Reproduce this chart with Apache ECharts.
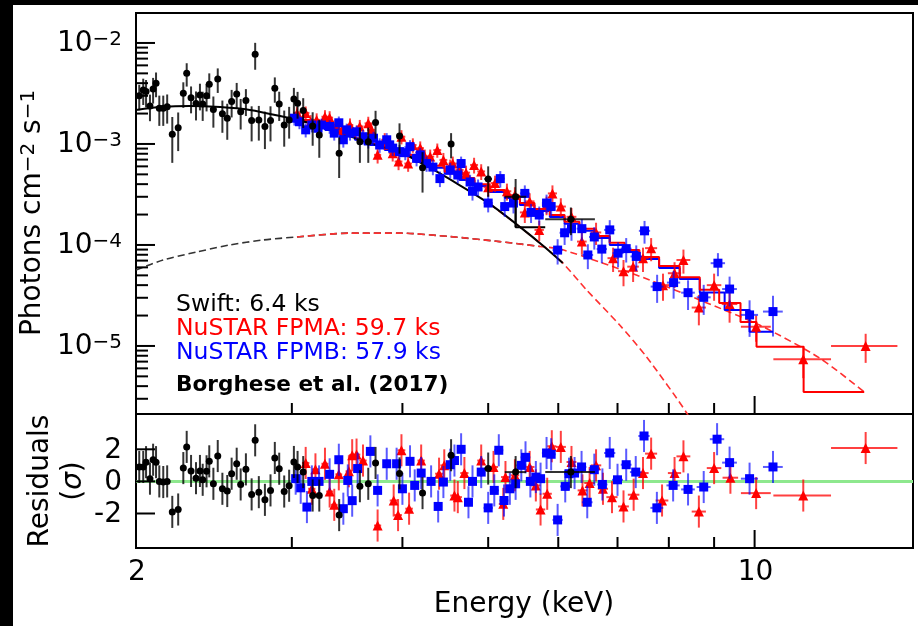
<!DOCTYPE html>
<html><head><meta charset="utf-8">
<script src="https://cdn.jsdelivr.net/npm/echarts@6/dist/echarts.min.js"></script>
<style>html,body{margin:0;padding:0;background:#fff;}#c{width:918px;height:626px;}</style>
</head><body><div id="c"></div>
<script>
// ---------------- DATA ----------------
const X_MIN = 2, X_MAX = 15.1;
const Y_MIN = 2.12e-6, Y_MAX = 1.98e-2;
const R_MIN = -4.15, R_MAX = 4.2;
const RES_SIGMA = 1;

const X_TICKS_MAJOR = [10];
const X_TICKS_MINOR = [2, 3, 4, 5, 6, 7, 8, 9];
const X_TICK_LABELS = [[2, '2'], [10, '10']];
const Y_TICKS_MAJOR = [1e-5, 1e-4, 1e-3, 1e-2];
const Y_TICKS_MINOR = [3e-6,4e-6,5e-6,6e-6,7e-6,8e-6,9e-6,
  2e-5,3e-5,4e-5,5e-5,6e-5,7e-5,8e-5,9e-5,
  2e-4,3e-4,4e-4,5e-4,6e-4,7e-4,8e-4,9e-4,
  2e-3,3e-3,4e-3,5e-3,6e-3,7e-3,8e-3,9e-3];
const Y_TICK_LABELS = [[1e-5, '−5'], [1e-4, '−4'], [1e-3, '−3'], [1e-2, '−2']];
const R_TICKS = [-2, 0, 2];
const R_TICK_LABELS = [[-2, '-2'], [0, '0'], [2, '2']];

// Swift: [E, dE, flux, dFlux]
const swiftFlux = [
 [2.017,0.008,3.0e-3,0.85e-3],[2.038,0.008,3.43e-3,1.0e-3],[2.053,0.008,3.30e-3,1.0e-3],[2.074,0.008,2.38e-3,0.7e-3],
 [2.091,0.008,3.51e-3,1.0e-3],[2.107,0.008,4.0e-3,1.1e-3],[2.125,0.008,2.26e-3,0.75e-3],[2.147,0.008,2.26e-3,0.75e-3],
 [2.169,0.008,2.34e-3,0.75e-3],[2.198,0.008,1.25e-3,0.6e-3],[2.232,0.008,1.45e-3,0.6e-3],[2.262,0.008,3.18e-3,0.9e-3],
 [2.282,0.008,5.0e-3,1.3e-3],[2.308,0.008,2.86e-3,0.85e-3],[2.338,0.008,2.51e-3,0.8e-3],[2.362,0.008,3.05e-3,0.9e-3],
 [2.379,0.008,2.49e-3,0.8e-3],[2.403,0.008,3.0e-3,0.9e-3],[2.420,0.008,3.9e-3,1.1e-3],[2.446,0.009,2.2e-3,0.75e-3],
 [2.474,0.009,4.4e-3,1.2e-3],[2.504,0.009,1.99e-3,0.7e-3],[2.536,0.009,1.80e-3,0.7e-3],[2.565,0.009,2.63e-3,0.8e-3],
 [2.599,0.009,3.12e-3,0.9e-3],[2.626,0.009,2.09e-3,0.7e-3],[2.662,0.009,2.69e-3,0.8e-3],[2.702,0.01,1.71e-3,0.65e-3],
 [2.727,0.01,7.73e-3,2.3e-3],[2.753,0.01,1.73e-3,0.65e-3],[2.797,0.01,1.49e-3,0.6e-3],[2.838,0.01,1.71e-3,0.65e-3],
 [2.870,0.01,3.56e-3,1.0e-3],[2.903,0.01,2.49e-3,0.8e-3],[2.941,0.01,1.54e-3,0.6e-3],[2.979,0.01,1.73e-3,0.6e-3],
 [3.016,0.01,2.79e-3,0.8e-3],[3.045,0.01,2.53e-3,0.75e-3],[3.09,0.01,2.14e-3,0.7e-3],[3.167,0.012,1.51e-3,0.55e-3],
 [3.222,0.012,1.23e-3,0.5e-3],[3.393,0.012,0.81e-3,0.35e-3],[3.581,0.015,1.05e-3,0.4e-3],[3.66,0.015,1.05e-3,0.4e-3],
 [3.73,0.015,1.63e-3,0.5e-3],[3.97,0.02,1.20e-3,0.4e-3],[4.215,0.02,0.58e-3,0.25e-3],[4.54,0.03,1.0e-3,0.28e-3],
 [5.0,0.05,0.45e-3,0.15e-3],[5.37,0.15,0.30e-3,0.15e-3],[6.2,0.4,0.18e-3,0.055e-3]
];
// Swift residuals: [E, dE, sigma]
const swiftRes = [
 [2.017,0.008,0.9],[2.038,0.008,0.9],[2.053,0.008,1.2],[2.074,0.008,0.17],[2.091,0.008,1.35],[2.107,0.008,1.2],
 [2.125,0.008,0],[2.147,0.008,-0.04],[2.169,0.008,0],[2.198,0.008,-1.9],[2.232,0.008,-1.75],[2.262,0.008,0.83],
 [2.282,0.008,2.15],[2.308,0.008,0.65],[2.338,0.008,0.2],[2.362,0.008,0.65],[2.379,0.008,0.1],[2.403,0.008,0.63],
 [2.420,0.008,1.25],[2.446,0.009,-0.15],[2.474,0.009,1.58],[2.504,0.009,-0.46],[2.536,0.009,-0.6],[2.565,0.009,0.48],
 [2.599,0.009,1.1],[2.626,0.009,-0.19],[2.662,0.009,0.75],[2.702,0.01,-0.81],[2.727,0.01,2.56],[2.753,0.01,-0.67],
 [2.797,0.01,-1.15],[2.838,0.01,-0.56],[2.870,0.01,1.46],[2.903,0.01,0.79],[2.941,0.01,-0.63],[2.979,0.01,-0.27],
 [3.016,0.01,1.21],[3.045,0.01,0.9],[3.09,0.01,0.58],[3.167,0.012,-0.88],[3.222,0.012,-0.88],[3.393,0.012,-2.1],
 [3.581,0.015,-0.3],[3.66,0.015,-0.15],[3.73,0.015,1.15],[3.97,0.02,0.5],[4.215,0.02,-0.73],[4.54,0.03,1.63],
 [5.0,0.05,0.8],[5.37,0.15,0.58],[6.2,0.4,0.58]
];
// NuSTAR FPMA: [E, dE, flux, dFlux]
const fpmaFlux = [
 [3.04,0.03,2.0e-3,0.32e-3],[3.06,0.03,1.82e-3,0.29e-3],[3.11,0.03,2.03e-3,0.32e-3],[3.15,0.03,1.66e-3,0.27e-3],
 [3.20,0.03,1.73e-3,0.28e-3],[3.27,0.03,1.86e-3,0.3e-3],[3.31,0.03,1.82e-3,0.29e-3],[3.36,0.03,1.49e-3,0.24e-3],
 [3.42,0.03,1.38e-3,0.22e-3],[3.49,0.03,1.54e-3,0.25e-3],[3.58,0.035,1.49e-3,0.24e-3],[3.66,0.035,1.6e-3,0.26e-3],
 [3.69,0.035,1.38e-3,0.22e-3],[3.75,0.035,0.78e-3,0.14e-3],[3.82,0.035,1.10e-3,0.18e-3],[3.90,0.04,0.81e-3,0.14e-3],
 [3.96,0.04,0.67e-3,0.12e-3],[3.99,0.04,1.18e-3,0.19e-3],[4.06,0.04,0.64e-3,0.11e-3],[4.11,0.04,0.977e-3,0.16e-3],
 [4.19,0.04,0.91e-3,0.15e-3],[4.24,0.04,0.75e-3,0.13e-3],[4.30,0.045,0.75e-3,0.13e-3],[4.38,0.045,0.87e-3,0.14e-3],
 [4.45,0.045,0.695e-3,0.12e-3],[4.53,0.045,0.60e-3,0.1e-3],[4.56,0.05,0.64e-3,0.11e-3],[4.64,0.05,0.553e-3,0.095e-3],
 [4.72,0.05,0.52e-3,0.09e-3],[4.82,0.05,0.62e-3,0.11e-3],[4.91,0.05,0.535e-3,0.095e-3],[5.00,0.06,0.372e-3,0.07e-3],
 [5.09,0.06,0.41e-3,0.075e-3],[5.25,0.06,0.34e-3,0.065e-3],[5.36,0.06,0.313e-3,0.06e-3],[5.50,0.07,0.21e-3,0.045e-3],
 [5.57,0.07,0.27e-3,0.055e-3],[5.71,0.07,0.141e-3,0.032e-3],[5.82,0.07,0.249e-3,0.052e-3],[5.91,0.07,0.324e-3,0.065e-3],
 [6.04,0.08,0.24e-3,0.05e-3],[6.21,0.08,0.19e-3,0.042e-3],[6.38,0.08,0.108e-3,0.028e-3],[6.62,0.09,0.133e-3,0.033e-3],
 [6.92,0.1,0.074e-3,0.02e-3],[7.11,0.1,0.055e-3,0.016e-3],[7.29,0.11,0.061e-3,0.018e-3],[7.48,0.11,0.074e-3,0.02e-3],
 [7.64,0.12,0.093e-3,0.024e-3],[7.88,0.13,0.040e-3,0.012e-3],[8.12,0.14,0.0525e-3,0.015e-3],[8.31,0.15,0.071e-3,0.019e-3],
 [8.65,0.16,0.024e-3,0.008e-3],[9.00,0.17,0.040e-3,0.012e-3],[9.37,0.19,0.026e-3,0.009e-3],[10.04,0.39,0.0155e-3,0.0045e-3],
 [11.35,0.85,7.4e-6,2.6e-6],[13.35,1.15,1.0e-5,0.32e-5]
];
const fpmaRes = [
 [3.11,0.03,1.15],[3.16,0.03,-0.46],[3.19,0.03,0.75],[3.27,0.03,1.1],[3.31,0.03,-0.63],[3.35,0.03,-1.46],
 [3.39,0.03,0.44],[3.48,0.03,0.63],[3.51,0.03,1.63],[3.55,0.035,1.67],[3.61,0.035,1.3],[3.75,0.035,-2.75],
 [3.91,0.04,-1.19],[3.955,0.04,-2.1],[3.99,0.04,1.94],[4.07,0.04,-1.7],[4.20,0.04,1.3],[4.40,0.045,0.48],
 [4.46,0.045,1.0],[4.58,0.05,-0.88],[4.62,0.05,-0.98],[4.70,0.05,0.52],[4.91,0.05,1.3],[5.07,0.06,0.9],
 [5.20,0.06,-1.4],[5.23,0.06,0.27],[5.36,0.06,0.38],[5.57,0.07,0.9],[5.66,0.07,-0.25],[5.73,0.07,-1.75],
 [5.83,0.07,-0.77],[5.90,0.07,2.19],[6.04,0.08,2.15],[6.21,0.08,1.21],[6.39,0.08,-0.56],[6.51,0.09,-0.1],
 [6.62,0.09,1.0],[6.74,0.09,-0.46],[6.90,0.1,-0.98],[7.11,0.1,-1.56],[7.30,0.11,-0.83],[7.48,0.11,0.52],
 [7.64,0.12,1.73],[7.86,0.13,-1.19],[8.12,0.14,0.52],[8.31,0.15,1.56],[8.65,0.16,-1.88],[9.0,0.17,0.83],
 [9.39,0.19,0.23],[10.04,0.39,-0.73],[11.35,0.85,-0.88],[13.35,1.15,2.08]
];
// NuSTAR FPMB: [E, dE, flux, dFlux]
const fpmbFlux = [
 [3.02,0.03,1.80e-3,0.28e-3],[3.06,0.03,1.66e-3,0.26e-3],[3.11,0.03,1.38e-3,0.22e-3],[3.16,0.03,1.54e-3,0.24e-3],
 [3.21,0.03,1.43e-3,0.22e-3],[3.24,0.03,1.54e-3,0.24e-3],[3.31,0.03,1.49e-3,0.23e-3],[3.35,0.03,1.28e-3,0.2e-3],
 [3.39,0.03,1.62e-3,0.25e-3],[3.43,0.03,1.10e-3,0.18e-3],[3.46,0.03,1.38e-3,0.21e-3],[3.49,0.03,1.28e-3,0.2e-3],
 [3.55,0.035,1.32e-3,0.2e-3],[3.61,0.035,1.18e-3,0.19e-3],[3.66,0.035,1.07e-3,0.17e-3],[3.71,0.035,1.14e-3,0.18e-3],
 [3.77,0.035,0.977e-3,0.16e-3],[3.84,0.035,1.10e-3,0.18e-3],[3.87,0.035,0.98e-3,0.16e-3],[3.90,0.04,0.91e-3,0.15e-3],
 [3.97,0.04,0.84e-3,0.14e-3],[4.03,0.04,0.82e-3,0.13e-3],[4.08,0.04,0.94e-3,0.15e-3],[4.15,0.04,0.72e-3,0.12e-3],
 [4.19,0.04,0.78e-3,0.13e-3],[4.26,0.04,0.64e-3,0.11e-3],[4.33,0.045,0.59e-3,0.10e-3],[4.41,0.045,0.454e-3,0.08e-3],
 [4.53,0.045,0.553e-3,0.095e-3],[4.62,0.05,0.493e-3,0.085e-3],[4.66,0.05,0.64e-3,0.11e-3],[4.77,0.05,0.42e-3,0.075e-3],
 [4.80,0.05,0.34e-3,0.065e-3],[4.87,0.05,0.375e-3,0.07e-3],[5.00,0.06,0.26e-3,0.05e-3],[5.16,0.06,0.454e-3,0.085e-3],
 [5.22,0.06,0.24e-3,0.05e-3],[5.34,0.06,0.26e-3,0.055e-3],[5.50,0.07,0.324e-3,0.065e-3],[5.59,0.07,0.21e-3,0.045e-3],
 [5.71,0.07,0.198e-3,0.042e-3],[5.82,0.07,0.26e-3,0.055e-3],[5.89,0.07,0.24e-3,0.05e-3],[5.99,0.08,0.089e-3,0.025e-3],
 [6.10,0.08,0.132e-3,0.032e-3],[6.21,0.08,0.145e-3,0.035e-3],[6.38,0.08,0.145e-3,0.035e-3],[6.48,0.09,0.0796e-3,0.022e-3],
 [6.59,0.09,0.12e-3,0.03e-3],[6.72,0.09,0.091e-3,0.025e-3],[6.86,0.1,0.141e-3,0.035e-3],[7.01,0.1,0.083e-3,0.023e-3],
 [7.16,0.1,0.092e-3,0.025e-3],[7.35,0.11,0.077e-3,0.022e-3],[7.51,0.11,0.138e-3,0.035e-3],[7.76,0.13,0.0387e-3,0.012e-3],
 [8.10,0.14,0.0424e-3,0.013e-3],[8.41,0.15,0.0337e-3,0.011e-3],[8.76,0.16,0.0303e-3,0.01e-3],[9.09,0.17,0.066e-3,0.017e-3],
 [9.37,0.18,0.0366e-3,0.012e-3],[9.87,0.22,0.0203e-3,0.008e-3],[10.49,0.27,0.0219e-3,0.0095e-3]
];
const fpmbRes = [
 [3.03,0.03,0.17],[3.07,0.03,-0.4],[3.12,0.03,-1.6],[3.16,0.03,0],[3.22,0.03,0],[3.31,0.03,0.44],[3.39,0.03,1.35],
 [3.43,0.03,-1.7],[3.47,0.03,0.06],[3.51,0.03,-1.2],[3.56,0.035,0.8],[3.68,0.035,1.87],[3.75,0.035,-0.56],
 [3.84,0.035,1.1],[3.94,0.04,1.1],[4.0,0.04,-0.46],[4.08,0.04,1.25],[4.13,0.04,-0.25],[4.20,0.04,0.52],
 [4.31,0.045,0],[4.39,0.045,-1.56],[4.45,0.045,-0.04],[4.53,0.045,1.04],[4.58,0.05,1.3],[4.66,0.05,2.0],
 [4.75,0.05,-1.3],[4.80,0.05,0],[4.91,0.05,0.58],[5.0,0.06,-1.65],[5.08,0.06,-0.56],[5.14,0.06,1.94],
 [5.21,0.06,-1.19],[5.29,0.06,-0.46],[5.37,0.06,-0.15],[5.45,0.07,1.0],[5.51,0.07,1.5],[5.58,0.07,0],
 [5.66,0.07,0.27],[5.73,0.07,0.17],[5.82,0.07,1.77],[5.89,0.07,1.69],[5.99,0.08,-2.4],[6.11,0.08,-0.31],
 [6.17,0.08,0.48],[6.26,0.08,0.52],[6.375,0.08,0.9],[6.47,0.09,-1.3],[6.59,0.09,0.73],[6.73,0.09,-0.19],
 [6.86,0.1,1.77],[7.0,0.1,0.1],[7.16,0.1,1.04],[7.34,0.11,0.58],[7.5,0.11,2.83],[7.755,0.13,-1.65],
 [8.09,0.14,-0.25],[8.41,0.15,-0.5],[8.76,0.16,-0.35],[9.07,0.17,2.63],[9.37,0.18,1.17],[9.87,0.22,0.17],
 [10.49,0.27,0.9]
];
// Model curves [E, flux]
const swiftModel = [[2.0,2.17e-3],[2.13,2.32e-3],[2.30,2.38e-3],[2.49,2.32e-3],[2.69,2.17e-3],[2.91,1.89e-3],
 [3.14,1.61e-3],[3.40,1.29e-3],[3.67,1.02e-3],[3.97,8.33e-4],[4.30,5.79e-4],[4.64,3.92e-4],[5.02,2.55e-4],
 [5.43,1.51e-4],[5.79,9.55e-5],[6.07,6.64e-5]];
const swiftStep = [[5.37,2.9e-4],[5.37,1.5e-4],[5.8,1.5e-4]];
const hardSwift = [[2.0,5.65e-5],[2.146,7.10e-5],[2.343,8.53e-5],[2.553,1.0e-4],[2.782,1.12e-4],[3.04,1.20e-4],
 [3.49,1.31e-4],[3.97,1.31e-4],[4.53,1.21e-4],[5.15,1.08e-4],[5.72,9.67e-5]];
const hardFpma = [[3.04,1.20e-4],[3.49,1.31e-4],[3.97,1.31e-4],[4.53,1.21e-4],[5.15,1.08e-4],[5.72,9.67e-5],
 [6.02,9.13e-5],[6.68,6.79e-5],[7.61,4.50e-5],[8.67,2.85e-5],[10.13,1.61e-5],[11.84,7.6e-6],[13.3,3.51e-6]];
const softFpma = [[5.02,2.55e-4],[5.43,1.51e-4],[5.79,9.55e-5],[6.07,6.64e-5],[6.46,3.58e-5],[7.04,1.61e-5],
 [7.55,7.78e-6],[8.38,2.17e-6],[8.67,1.2e-6]];
// Binned models (bin lower edge, flux), last point = upper edge of final bin
const fpmaStep = [[3.024,1.73e-3],[3.145,1.58e-3],[3.27,1.44e-3],[3.40,1.28e-3],[3.535,1.14e-3],[3.675,1.0e-3],
 [3.82,8.9e-4],[3.97,7.8e-4],[4.13,6.95e-4],[4.295,6.1e-4],[4.465,5.3e-4],[4.64,4.6e-4],[4.825,4.0e-4],
 [5.02,3.51e-4],[5.22,3.06e-4],[5.43,2.6e-4],[5.64,2.27e-4],[5.87,1.98e-4],[6.10,1.7e-4],[6.34,1.45e-4],
 [6.59,1.23e-4],[6.86,1.05e-4],[7.13,8.9e-5],[7.41,7.6e-5],[7.80,6.2e-5],[8.23,4.8e-5],[8.67,3.6e-5],
 [9.12,2.67e-5],[9.64,1.73e-5],[10.05,9.8e-6],[11.36,3.5e-6],[13.3,3.5e-6]];
const fpmbStep = [[3.024,1.65e-3],[3.145,1.51e-3],[3.27,1.38e-3],[3.40,1.23e-3],[3.535,1.10e-3],[3.675,9.77e-4],
 [3.82,8.73e-4],[3.97,7.6e-4],[4.13,6.65e-4],[4.295,5.8e-4],[4.465,5.06e-4],[4.64,4.40e-4],[4.825,3.84e-4],
 [5.02,3.35e-4],[5.22,2.92e-4],[5.43,2.49e-4],[5.64,2.17e-4],[5.87,1.89e-4],[6.10,1.62e-4],[6.34,1.38e-4],
 [6.59,1.17e-4],[6.86,1.0e-4],[7.13,8.5e-5],[7.41,7.26e-5],[7.80,5.9e-5],[8.23,4.6e-5],[8.67,3.38e-5],
 [9.25,2.27e-5],[9.87,1.38e-5],[10.49,1.38e-5]];

const LEGEND_TEXT = [['Swift: 6.4 ks','#000'],['NuSTAR FPMA: 59.7 ks','#ff0000'],['NuSTAR FPMB: 57.9 ks','#0000ff']];
const CREDIT = 'Borghese et al. (2017)';

// ---------------- CHART ----------------
const FONT = 'DejaVu Sans';
const chart = echarts.init(document.getElementById('c'), null, {renderer:'canvas', width:918, height:626});
const hidden = {axisLine:{show:false}, axisTick:{show:false}, axisLabel:{show:false}, splitLine:{show:false}};

function errSeries(data, gi, color, z, fixedSigma) {
  return {type:'custom', xAxisIndex:gi, yAxisIndex:gi, z, silent:true, encode:{x:0, y:2},
    data,
    renderItem:(p, api) => {
      const E = api.value(0), dE = api.value(1), V = api.value(2);
      const dV = fixedSigma ? RES_SIGMA : api.value(3);
      const a = api.coord([E - dE, V]), b = api.coord([E + dE, V]);
      const c = api.coord([E, V - dV]), d = api.coord([E, V + dV]);
      return {type:'group', children:[
        {type:'line', shape:{x1:a[0], y1:a[1], x2:b[0], y2:b[1]}, style:{stroke:color, lineWidth:2}},
        {type:'line', shape:{x1:c[0], y1:c[1], x2:d[0], y2:d[1]}, style:{stroke:color, lineWidth:2}}
      ]};
    }};
}
function markerSeries(data, gi, symbol, size, color, z) {
  return {type:'scatter', xAxisIndex:gi, yAxisIndex:gi, z, silent:true, symbol, symbolSize:size,
    itemStyle:{color, opacity:1}, data: data.map(t => [t[0], t[2]])};
}
function lineSeries(data, color, width, dashed, z, step) {
  return {type:'line', xAxisIndex:0, yAxisIndex:0, z, silent:true, showSymbol:false, symbol:'none',
    step: step || false, smooth: step ? false : 0.25, data,
    lineStyle:{color, width, type: dashed ? [7, 4] : 'solid'}};
}
function xTicks(gi, yref) {
  const data = X_TICKS_MAJOR.map(v => [v, yref, 1]).concat(X_TICKS_MINOR.map(v => [v, yref, 0]));
  return {type:'custom', xAxisIndex:gi, yAxisIndex:gi, z:20, silent:true, data,
    renderItem:(p, api) => {
      const cs = p.coordSys; const x = api.coord([api.value(0), api.value(1)])[0];
      const L = api.value(2) ? 18 : 11; const yb = cs.y + cs.height;
      return {type:'line', shape:{x1:x, y1:yb, x2:x, y2:yb - L}, style:{stroke:'#000', lineWidth:2}};
    }};
}
function yTicks(gi, major, minor) {
  const data = major.map(v => [X_MIN, v, 1]).concat(minor.map(v => [X_MIN, v, 0]));
  return {type:'custom', xAxisIndex:gi, yAxisIndex:gi, z:20, silent:true, data,
    renderItem:(p, api) => {
      const cs = p.coordSys; const y = api.coord([api.value(0), api.value(1)])[1];
      const L = api.value(2) ? 19 : 12;
      return {type:'line', shape:{x1:cs.x, y1:y, x2:cs.x + L, y2:y}, style:{stroke:'#000', lineWidth:2}};
    }};
}
const xLabelSeries = {type:'custom', xAxisIndex:1, yAxisIndex:1, z:20, silent:true,
  data: X_TICK_LABELS.map(t => [t[0], 0]),
  renderItem:(p, api) => {
    const cs = p.coordSys; const x = api.coord([api.value(0), api.value(1)])[0];
    return {type:'text', x:x + 1, y:cs.y + cs.height + 25,
      style:{text:X_TICK_LABELS[p.dataIndex][1], fontFamily:FONT, fontSize:28, fill:'#000', align:'center', verticalAlign:'middle'}};
  }};
const yLogLabelSeries = {type:'custom', xAxisIndex:0, yAxisIndex:0, z:20, silent:true,
  data: Y_TICK_LABELS.map(t => [X_MIN, t[0]]),
  renderItem:(p, api) => {
    const cs = p.coordSys; const y = api.coord([api.value(0), api.value(1)])[1];
    return {type:'text', x:cs.x - 14, y:y + 1,
      style:{text:'{b|10}{s|' + Y_TICK_LABELS[p.dataIndex][1] + '}', align:'right', verticalAlign:'middle', fill:'#000',
        rich:{b:{fontFamily:FONT, fontSize:28, fill:'#000'}, s:{fontFamily:FONT, fontSize:20, fill:'#000', verticalAlign:'top'}}}};
  }};
const yResLabelSeries = {type:'custom', xAxisIndex:1, yAxisIndex:1, z:20, silent:true,
  data: R_TICK_LABELS.map(t => [X_MIN, t[0]]),
  renderItem:(p, api) => {
    const cs = p.coordSys; const y = api.coord([api.value(0), api.value(1)])[1];
    return {type:'text', x:cs.x - 14, y:y + 1,
      style:{text:R_TICK_LABELS[p.dataIndex][1], fontFamily:FONT, fontSize:28, fill:'#000', align:'right', verticalAlign:'middle'}};
  }};

const RED_ERR = 'rgba(255,0,0,0.75)', BLUE_ERR = 'rgba(0,0,255,0.65)', BLACK_ERR = 'rgba(0,0,0,0.8)';

const option = {
  backgroundColor:'#fff', animation:false,
  grid:[
    {left:136, top:13, width:777, height:401, show:true, borderColor:'#000', borderWidth:2, backgroundColor:'transparent'},
    {left:136, top:414, width:777, height:134, show:true, borderColor:'#000', borderWidth:2, backgroundColor:'transparent'}
  ],
  xAxis:[
    Object.assign({type:'log', logBase:10, gridIndex:0, min:X_MIN, max:X_MAX}, hidden),
    Object.assign({type:'log', logBase:10, gridIndex:1, min:X_MIN, max:X_MAX}, hidden)
  ],
  yAxis:[
    Object.assign({type:'log', logBase:10, gridIndex:0, min:Y_MIN, max:Y_MAX}, hidden),
    Object.assign({type:'value', gridIndex:1, min:R_MIN, max:R_MAX}, hidden)
  ],
  graphic:[
    {type:'rect', shape:{x:0, y:0, width:918, height:5}, style:{fill:'#000'}, silent:true},
    {type:'rect', shape:{x:0, y:0, width:13, height:626}, style:{fill:'#000'}, silent:true},
    {type:'text', x:33, y:213, rotation:Math.PI/2, silent:true,
      style:{text:'{a|Photons cm}{s|−2}{a| s}{s|−1}', align:'center', verticalAlign:'middle', fill:'#000',
        rich:{a:{fontFamily:FONT, fontSize:28, fill:'#000'}, s:{fontFamily:FONT, fontSize:20, fill:'#000', verticalAlign:'top'}}}},
    {type:'text', x:57, y:481, rotation:Math.PI/2, silent:true,
      style:{text:'{a|Residuals}\n{a|(}{i|σ}{a|)}', align:'center', verticalAlign:'middle', fill:'#000',
        rich:{a:{fontFamily:FONT, fontSize:28, fill:'#000', lineHeight:33}, i:{fontFamily:FONT, fontSize:28, fontStyle:'italic', fill:'#000', lineHeight:33}}}},
    {type:'text', x:524, y:605, silent:true,
      style:{text:'Energy (keV)', fontFamily:FONT, fontSize:28, fill:'#000', align:'center', verticalAlign:'middle'}},
    ...LEGEND_TEXT.map((t, i) => ({type:'text', x:176, y:305 + i * 24, silent:true,
      style:{text:t[0], fontFamily:FONT, fontSize:23.5, fill:t[1], align:'left', verticalAlign:'middle'}})),
    {type:'text', x:176, y:385, silent:true,
      style:{text:CREDIT, fontFamily:FONT, fontWeight:'bold', fontSize:21.6, fill:'#000', align:'left', verticalAlign:'middle'}}
  ],
  series:[
    // model lines
    lineSeries(hardSwift, '#333', 1.6, true, 2),
    lineSeries(hardFpma, '#ff3030', 1.6, true, 2),
    lineSeries(softFpma, '#ff3030', 1.6, true, 2),
    lineSeries(fpmbStep, '#0000ff', 2, false, 2, 'end'),
    lineSeries(fpmaStep, '#ff0000', 2, false, 2, 'end'),
    lineSeries(swiftModel, '#000', 2, false, 2),
    Object.assign(lineSeries(swiftStep, '#000', 2, false, 2), {smooth:false}),
    // data top
    errSeries(fpmaFlux, 0, RED_ERR, 3, false),
    markerSeries(fpmaFlux, 0, 'triangle', 10, '#ff0000', 4),
    errSeries(fpmbFlux, 0, BLUE_ERR, 5, false),
    markerSeries(fpmbFlux, 0, 'rect', 9, '#0000ff', 6),
    errSeries(swiftFlux, 0, BLACK_ERR, 7, false),
    markerSeries(swiftFlux, 0, 'circle', 7, '#000', 8),
    // residuals
    errSeries(fpmaRes, 1, RED_ERR, 3, true),
    Object.assign(markerSeries(fpmaRes, 1, 'triangle', 10, '#ff0000', 4), {
      markLine:{silent:true, symbol:'none', label:{show:false}, z:1,
        lineStyle:{color:'#8ee88e', width:3, type:'solid'}, data:[{yAxis:0}]}}),
    errSeries(fpmbRes, 1, BLUE_ERR, 5, true),
    markerSeries(fpmbRes, 1, 'rect', 9, '#0000ff', 6),
    errSeries(swiftRes, 1, BLACK_ERR, 7, true),
    markerSeries(swiftRes, 1, 'circle', 7, '#000', 8),
    // ticks & labels
    xTicks(0, Y_MIN), xTicks(1, 0),
    yTicks(0, Y_TICKS_MAJOR, Y_TICKS_MINOR), yTicks(1, R_TICKS, []),
    xLabelSeries, yLogLabelSeries, yResLabelSeries
  ]
};
chart.setOption(option);
</script></body></html>
